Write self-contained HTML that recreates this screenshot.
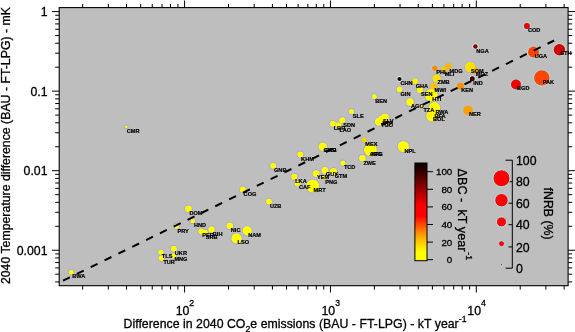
<!DOCTYPE html>
<html><head><meta charset="utf-8"><title>chart</title><style>html,body{margin:0;padding:0;background:#fff}svg{display:block}</style></head><body>
<svg width="575" height="332" viewBox="0 0 575 332" font-family="'Liberation Sans', Arial, sans-serif">
<rect width="575" height="332" fill="#fff"/>
<defs><clipPath id="pc"><rect x="59.2" y="7.6" width="508.90000000000003" height="278.09999999999997"/></clipPath>
<linearGradient id="cb" x1="0" y1="0" x2="0" y2="1">
<stop offset="0.0000" stop-color="#000000"/>
<stop offset="0.0890" stop-color="#330000"/>
<stop offset="0.2682" stop-color="#990000"/>
<stop offset="0.4401" stop-color="#ff0000"/>
<stop offset="0.5425" stop-color="#ff0000"/>
<stop offset="0.6285" stop-color="#ff4800"/>
<stop offset="0.7165" stop-color="#ff9000"/>
<stop offset="0.8086" stop-color="#ffc800"/>
<stop offset="0.9110" stop-color="#ffff00"/>
<stop offset="1.0000" stop-color="#ffff00"/>
</linearGradient></defs>
<rect x="59.2" y="7.6" width="508.90000000000003" height="278.09999999999997" fill="#bebebe"/>
<path d="M55.2 281.91H59.2M568.1 281.91H572.2M55.2 274.20H59.2M568.1 274.20H572.2M55.2 267.90H59.2M568.1 267.90H572.2M55.2 262.57H59.2M568.1 262.57H572.2M55.2 257.96H59.2M568.1 257.96H572.2M55.2 253.89H59.2M568.1 253.89H572.2M52 250.25H59.2M568.1 250.25H575M55.2 226.30H59.2M568.1 226.30H572.2M55.2 212.30H59.2M568.1 212.30H572.2M55.2 202.36H59.2M568.1 202.36H572.2M55.2 194.65H59.2M568.1 194.65H572.2M55.2 188.35H59.2M568.1 188.35H572.2M55.2 183.02H59.2M568.1 183.02H572.2M55.2 178.41H59.2M568.1 178.41H572.2M55.2 174.34H59.2M568.1 174.34H572.2M52 170.70H59.2M568.1 170.70H575M55.2 146.75H59.2M568.1 146.75H572.2M55.2 132.75H59.2M568.1 132.75H572.2M55.2 122.81H59.2M568.1 122.81H572.2M55.2 115.10H59.2M568.1 115.10H572.2M55.2 108.80H59.2M568.1 108.80H572.2M55.2 103.47H59.2M568.1 103.47H572.2M55.2 98.86H59.2M568.1 98.86H572.2M55.2 94.79H59.2M568.1 94.79H572.2M52 91.15H59.2M568.1 91.15H575M55.2 67.20H59.2M568.1 67.20H572.2M55.2 53.20H59.2M568.1 53.20H572.2M55.2 43.26H59.2M568.1 43.26H572.2M55.2 35.55H59.2M568.1 35.55H572.2M55.2 29.25H59.2M568.1 29.25H572.2M55.2 23.92H59.2M568.1 23.92H572.2M55.2 19.31H59.2M568.1 19.31H572.2M55.2 15.24H59.2M568.1 15.24H572.2M52 11.60H59.2M568.1 11.60H575M82.66 4V7.6M82.66 285.7V289.6M108.34 4V7.6M108.34 285.7V289.6M126.56 4V7.6M126.56 285.7V289.6M140.69 4V7.6M140.69 285.7V289.6M152.24 4V7.6M152.24 285.7V289.6M162.01 4V7.6M162.01 285.7V289.6M170.47 4V7.6M170.47 285.7V289.6M177.93 4V7.6M177.93 285.7V289.6M184.60 0.5V7.6M184.60 285.7V292.5M228.51 4V7.6M228.51 285.7V289.6M254.19 4V7.6M254.19 285.7V289.6M272.41 4V7.6M272.41 285.7V289.6M286.54 4V7.6M286.54 285.7V289.6M298.09 4V7.6M298.09 285.7V289.6M307.86 4V7.6M307.86 285.7V289.6M316.32 4V7.6M316.32 285.7V289.6M323.78 4V7.6M323.78 285.7V289.6M330.45 0.5V7.6M330.45 285.7V292.5M374.36 4V7.6M374.36 285.7V289.6M400.04 4V7.6M400.04 285.7V289.6M418.26 4V7.6M418.26 285.7V289.6M432.39 4V7.6M432.39 285.7V289.6M443.94 4V7.6M443.94 285.7V289.6M453.71 4V7.6M453.71 285.7V289.6M462.17 4V7.6M462.17 285.7V289.6M469.63 4V7.6M469.63 285.7V289.6M476.30 0.5V7.6M476.30 285.7V292.5M520.21 4V7.6M520.21 285.7V289.6M545.89 4V7.6M545.89 285.7V289.6M564.11 4V7.6M564.11 285.7V289.6" stroke="#000" stroke-width="1" fill="none"/>
<g clip-path="url(#pc)">
<g>
<circle cx="71.3" cy="272.2" r="3.30" fill="#a4a4e1"/>
<circle cx="160.9" cy="252.2" r="3.50" fill="#a4a4e1"/>
<circle cx="161.3" cy="258.2" r="3.50" fill="#a4a4e1"/>
<circle cx="173.9" cy="248.8" r="3.80" fill="#a4a4e1"/>
<circle cx="173.5" cy="256.0" r="3.50" fill="#a4a4e1"/>
<circle cx="176.4" cy="226.6" r="3.30" fill="#a4a4e1"/>
<circle cx="188.5" cy="208.9" r="4.10" fill="#a4a4e1"/>
<circle cx="192.7" cy="221.0" r="3.10" fill="#a4a4e1"/>
<circle cx="201.3" cy="231.6" r="3.80" fill="#a4a4e1"/>
<circle cx="204.9" cy="232.7" r="3.80" fill="#a4a4e1"/>
<circle cx="211.5" cy="229.5" r="4.00" fill="#a4a4e1"/>
<circle cx="229.8" cy="225.9" r="4.10" fill="#a4a4e1"/>
<circle cx="247.2" cy="230.8" r="5.50" fill="#a4a4e1"/>
<circle cx="236.6" cy="238.4" r="6.00" fill="#a4a4e1"/>
<circle cx="242.7" cy="189.6" r="3.80" fill="#a4a4e1"/>
<circle cx="268.9" cy="201.6" r="3.80" fill="#a4a4e1"/>
<circle cx="273.2" cy="165.7" r="3.80" fill="#a4a4e1"/>
<circle cx="300.3" cy="154.4" r="3.80" fill="#a4a4e1"/>
<circle cx="294.2" cy="176.8" r="3.80" fill="#a4a4e1"/>
<circle cx="297.7" cy="183.5" r="3.80" fill="#a4a4e1"/>
<circle cx="312.7" cy="186.1" r="7.30" fill="#a4a4e1"/>
<circle cx="316.1" cy="173.4" r="4.30" fill="#a4a4e1"/>
<circle cx="324.3" cy="177.2" r="3.30" fill="#a4a4e1"/>
<circle cx="324.9" cy="170.3" r="4.30" fill="#a4a4e1"/>
<circle cx="333.5" cy="171.5" r="4.30" fill="#a4a4e1"/>
<circle cx="342.9" cy="163.0" r="3.40" fill="#a4a4e1"/>
<circle cx="351.5" cy="111.6" r="3.50" fill="#a4a4e1"/>
<circle cx="342.3" cy="120.3" r="3.80" fill="#a4a4e1"/>
<circle cx="332.8" cy="123.8" r="3.80" fill="#a4a4e1"/>
<circle cx="338.5" cy="125.1" r="3.60" fill="#a4a4e1"/>
<circle cx="322.8" cy="146.7" r="5.10" fill="#a4a4e1"/>
<circle cx="370.4" cy="150.0" r="7.20" fill="#a4a4e1"/>
<circle cx="364.3" cy="139.9" r="3.50" fill="#a4b6e1"/>
<circle cx="362.4" cy="158.2" r="4.10" fill="#a4a4e1"/>
<circle cx="403.4" cy="146.5" r="6.30" fill="#a4a4e1"/>
<circle cx="374.3" cy="96.6" r="3.30" fill="#a4a4e1"/>
<circle cx="399.5" cy="89.4" r="3.60" fill="#a4a4e1"/>
<circle cx="410.0" cy="102.1" r="4.60" fill="#a4a4e1"/>
<circle cx="379.0" cy="121.8" r="4.80" fill="#a4a4e1"/>
<circle cx="382.0" cy="119.6" r="4.80" fill="#a4a4e1"/>
<circle cx="385.0" cy="117.5" r="4.70" fill="#a4a4e1"/>
<circle cx="399.5" cy="79.0" r="2.90" fill="#e1e1e1"/>
<circle cx="415.1" cy="81.3" r="3.80" fill="#a4aae1"/>
<circle cx="420.0" cy="90.0" r="4.00" fill="#a4a4e1"/>
<circle cx="434.9" cy="68.2" r="3.60" fill="#a4d2e1"/>
<circle cx="443.8" cy="69.5" r="3.80" fill="#a4bae1"/>
<circle cx="448.5" cy="66.4" r="4.10" fill="#a4c2e1"/>
<circle cx="436.6" cy="78.4" r="5.00" fill="#a4b0e1"/>
<circle cx="433.7" cy="86.3" r="4.30" fill="#a4bde1"/>
<circle cx="431.3" cy="95.3" r="7.10" fill="#a4a4e1"/>
<circle cx="422.5" cy="106.3" r="2.80" fill="#a4a4e1"/>
<circle cx="431.8" cy="116.0" r="6.30" fill="#a4a4e1"/>
<circle cx="430.1" cy="115.3" r="3.80" fill="#a4aae1"/>
<circle cx="434.4" cy="107.8" r="6.60" fill="#a4a4e1"/>
<circle cx="460.4" cy="86.1" r="4.40" fill="#a4d0e1"/>
<circle cx="468.0" cy="110.3" r="5.70" fill="#a4cae1"/>
<circle cx="475.4" cy="46.5" r="3.00" fill="#d6e1e1"/>
<circle cx="474.8" cy="70.2" r="4.30" fill="#a4c8e1"/>
<circle cx="470.1" cy="67.0" r="6.00" fill="#a4b0e1"/>
<circle cx="472.3" cy="78.8" r="3.30" fill="#e1e1e1"/>
<circle cx="526.9" cy="26.0" r="3.80" fill="#aee1e1"/>
<circle cx="533.5" cy="52.1" r="6.30" fill="#a4e1e1"/>
<circle cx="559.4" cy="49.7" r="6.50" fill="#b5e1e1"/>
<circle cx="541.8" cy="77.9" r="8.50" fill="#a4e1e1"/>
<circle cx="516.0" cy="84.5" r="5.80" fill="#aae1e1"/>
<circle cx="126.2" cy="126.8" r="2.20" fill="#a4a4e1"/>
<circle cx="71.3" cy="272.2" r="2.50" fill="#ffff00"/>
<circle cx="160.9" cy="252.2" r="2.70" fill="#ffff00"/>
<circle cx="161.3" cy="258.2" r="2.70" fill="#ffff00"/>
<circle cx="173.9" cy="248.8" r="3.00" fill="#ffff00"/>
<circle cx="173.5" cy="256.0" r="2.70" fill="#ffff00"/>
<circle cx="176.4" cy="226.6" r="2.50" fill="#ffff00"/>
<circle cx="188.5" cy="208.9" r="3.30" fill="#ffff00"/>
<circle cx="192.7" cy="221.0" r="2.30" fill="#ffff00"/>
<circle cx="201.3" cy="231.6" r="3.00" fill="#ffff00"/>
<circle cx="204.9" cy="232.7" r="3.00" fill="#ffff00"/>
<circle cx="211.5" cy="229.5" r="3.20" fill="#ffff00"/>
<circle cx="229.8" cy="225.9" r="3.30" fill="#ffff00"/>
<circle cx="247.2" cy="230.8" r="4.70" fill="#ffff00"/>
<circle cx="236.6" cy="238.4" r="5.20" fill="#ffff00"/>
<circle cx="242.7" cy="189.6" r="3.00" fill="#ffff00"/>
<circle cx="268.9" cy="201.6" r="3.00" fill="#ffff00"/>
<circle cx="273.2" cy="165.7" r="3.00" fill="#ffff00"/>
<circle cx="300.3" cy="154.4" r="3.00" fill="#ffff00"/>
<circle cx="294.2" cy="176.8" r="3.00" fill="#ffff00"/>
<circle cx="297.7" cy="183.5" r="3.00" fill="#ffff00"/>
<circle cx="312.7" cy="186.1" r="6.50" fill="#ffff00"/>
<circle cx="316.1" cy="173.4" r="3.50" fill="#ffff00"/>
<circle cx="324.3" cy="177.2" r="2.50" fill="#ffff00"/>
<circle cx="324.9" cy="170.3" r="3.50" fill="#ffff00"/>
<circle cx="333.5" cy="171.5" r="3.50" fill="#ffff00"/>
<circle cx="342.9" cy="163.0" r="2.60" fill="#ffff00"/>
<circle cx="351.5" cy="111.6" r="2.70" fill="#ffff00"/>
<circle cx="342.3" cy="120.3" r="3.00" fill="#ffff00"/>
<circle cx="332.8" cy="123.8" r="3.00" fill="#ffff00"/>
<circle cx="338.5" cy="125.1" r="2.80" fill="#ffff00"/>
<circle cx="322.8" cy="146.7" r="4.30" fill="#ffff00"/>
<circle cx="370.4" cy="150.0" r="6.40" fill="#ffff00"/>
<circle cx="364.3" cy="139.9" r="2.70" fill="#ffd000"/>
<circle cx="362.4" cy="158.2" r="3.30" fill="#ffff00"/>
<circle cx="403.4" cy="146.5" r="5.50" fill="#ffff00"/>
<circle cx="374.3" cy="96.6" r="2.50" fill="#ffff00"/>
<circle cx="399.5" cy="89.4" r="2.80" fill="#ffff00"/>
<circle cx="410.0" cy="102.1" r="3.80" fill="#ffff00"/>
<circle cx="379.0" cy="121.8" r="4.00" fill="#ffff00"/>
<circle cx="382.0" cy="119.6" r="4.00" fill="#ffff00"/>
<circle cx="385.0" cy="117.5" r="3.90" fill="#ffff00"/>
<circle cx="399.5" cy="79.0" r="2.10" fill="#0d0000"/>
<circle cx="415.1" cy="81.3" r="3.00" fill="#fff000"/>
<circle cx="420.0" cy="90.0" r="3.20" fill="#ffff00"/>
<circle cx="434.9" cy="68.2" r="2.80" fill="#ff8c00"/>
<circle cx="443.8" cy="69.5" r="3.00" fill="#ffc800"/>
<circle cx="448.5" cy="66.4" r="3.30" fill="#ffb400"/>
<circle cx="436.6" cy="78.4" r="4.20" fill="#ffe000"/>
<circle cx="433.7" cy="86.3" r="3.50" fill="#ffc000"/>
<circle cx="431.3" cy="95.3" r="6.30" fill="#ffff00"/>
<circle cx="422.5" cy="106.3" r="2.00" fill="#ffff00"/>
<circle cx="431.8" cy="116.0" r="5.50" fill="#ffff00"/>
<circle cx="430.1" cy="115.3" r="3.00" fill="#fff000"/>
<circle cx="434.4" cy="107.8" r="5.80" fill="#ffff00"/>
<circle cx="460.4" cy="86.1" r="3.60" fill="#ff9000"/>
<circle cx="468.0" cy="110.3" r="4.90" fill="#ffa000"/>
<circle cx="475.4" cy="46.5" r="2.20" fill="#800000"/>
<circle cx="474.8" cy="70.2" r="3.50" fill="#ffa500"/>
<circle cx="470.1" cy="67.0" r="5.20" fill="#ffe000"/>
<circle cx="472.3" cy="78.8" r="2.50" fill="#400000"/>
<circle cx="526.9" cy="26.0" r="3.00" fill="#e60000"/>
<circle cx="533.5" cy="52.1" r="5.50" fill="#ff4500"/>
<circle cx="559.4" cy="49.7" r="5.70" fill="#d40000"/>
<circle cx="541.8" cy="77.9" r="7.70" fill="#ff4500"/>
<circle cx="516.0" cy="84.5" r="5.00" fill="#f00000"/>
<circle cx="126.2" cy="126.8" r="1.40" fill="#ffff00"/>
</g></g>
<g font-size="5.6" font-weight="bold" fill="#000" stroke="#000" stroke-width="0.2">
<text x="72.2" y="278.1">BWA</text>
<text x="161.8" y="258.1">TLS</text>
<text x="163.4" y="264.0">TUR</text>
<text x="174.8" y="254.8">UKR</text>
<text x="174.4" y="261.4">MNG</text>
<text x="177.5" y="232.7">PRY</text>
<text x="189.4" y="215.4">DOM</text>
<text x="193.9" y="227.0">HND</text>
<text x="202.3" y="237.2">PER</text>
<text x="205.8" y="238.8">SRB</text>
<text x="212.8" y="235.7">BIH</text>
<text x="230.8" y="231.9">NIC</text>
<text x="248.2" y="236.7">NAM</text>
<text x="237.5" y="244.3">LSO</text>
<text x="243.6" y="195.7">COG</text>
<text x="269.9" y="207.7">UZB</text>
<text x="274.0" y="171.5">GNB</text>
<text x="301.1" y="160.5">KHM</text>
<text x="295.2" y="182.7">LKA</text>
<text x="299.0" y="189.4">CAF</text>
<text x="313.5" y="192.2">MRT</text>
<text x="317.0" y="179.3">YEM</text>
<text x="325.3" y="183.6">PNG</text>
<text x="325.8" y="176.4">GUY</text>
<text x="334.7" y="177.6">GTM</text>
<text x="343.9" y="169.1">TCD</text>
<text x="352.8" y="117.7">SLE</text>
<text x="343.3" y="126.6">SDN</text>
<text x="333.7" y="129.8">LBR</text>
<text x="339.4" y="131.8">LAO</text>
<text x="323.4" y="152.2">GMB</text>
<text x="324.2" y="152.0">GAB</text>
<text x="369.5" y="155.8">ARG</text>
<text x="371.0" y="155.6">AFG</text>
<text x="365.3" y="145.6">MEX</text>
<text x="363.4" y="164.6">ZWE</text>
<text x="404.4" y="152.6">NPL</text>
<text x="375.2" y="102.7">BEN</text>
<text x="400.5" y="95.5">GIN</text>
<text x="411.0" y="108.4">AGO</text>
<text x="381.0" y="127.4">TGO</text>
<text x="382.2" y="125.0">STP</text>
<text x="383.0" y="123.0">SLV</text>
<text x="400.4" y="84.7">CHN</text>
<text x="415.7" y="88.0">GHA</text>
<text x="421.0" y="95.8">SEN</text>
<text x="436.2" y="74.3">PHL</text>
<text x="444.7" y="75.8">MLI</text>
<text x="449.5" y="72.7">MDG</text>
<text x="437.5" y="84.4">ZMB</text>
<text x="434.6" y="92.3">MWI</text>
<text x="432.3" y="100.8">HTI</text>
<text x="423.4" y="112.3">TZA</text>
<text x="433.0" y="120.7">BOL</text>
<text x="434.4" y="118.4">BFA</text>
<text x="435.4" y="113.9">RWA</text>
<text x="461.3" y="91.7">KEN</text>
<text x="468.9" y="116.4">NER</text>
<text x="476.3" y="52.8">NGA</text>
<text x="475.8" y="75.9">MOZ</text>
<text x="471.0" y="73.1">SOM</text>
<text x="473.2" y="84.8">IND</text>
<text x="527.9" y="32.1">COD</text>
<text x="534.7" y="58.2">UGA</text>
<text x="560.4" y="55.1">ETH</text>
<text x="542.7" y="84.0">PAK</text>
<text x="517.0" y="90.4">BGD</text>
<text x="126.8" y="133.2">CMR</text>
</g>
<line x1="63.0" y1="280.7" x2="554.2" y2="40.5" stroke="#000" stroke-width="2.0" stroke-dasharray="7.68 7.73"/>
<rect x="59.2" y="7.6" width="508.90000000000003" height="278.09999999999997" fill="none" stroke="#000" stroke-width="1.1"/>
<g stroke="#000" stroke-width="0.3">
<rect x="414.9" y="163" width="12.1" height="97.7" fill="url(#cb)" stroke="#000" stroke-width="1"/>
<text x="452.3" y="175.10" font-size="9.8" text-anchor="end">100</text>
<text x="452.3" y="192.70" font-size="9.8" text-anchor="end">80</text>
<text x="452.3" y="210.30" font-size="9.8" text-anchor="end">60</text>
<text x="452.3" y="227.90" font-size="9.8" text-anchor="end">40</text>
<text x="452.3" y="245.50" font-size="9.8" text-anchor="end">20</text>
<text x="452.3" y="263.10" font-size="9.8" text-anchor="end">0</text>
<path d="M427 171.70H433M427 189.30H433M427 206.90H433M427 224.50H433M427 242.10H433M427 259.70H433" stroke="#000" stroke-width="1"/>
<text transform="translate(458.3,168.5) rotate(90)" font-size="12.7">ΔBC - &#160;kT year<tspan font-size="9" dx="0.8" dy="-8">-1</tspan></text>
<path d="M505.5 160.2H512.3V268.2H505.5M508.5 181.7H512.3M508.5 203.2H512.3M508.5 224.7H512.3M508.5 246.9H512.3" fill="none" stroke="#000" stroke-width="1"/>
<text x="516" y="164.70" font-size="12.3">100</text>
<text x="516" y="186.00" font-size="12.3">80</text>
<text x="516" y="208.00" font-size="12.3">60</text>
<text x="516" y="229.10" font-size="12.3">40</text>
<text x="516" y="251.70" font-size="12.3">20</text>
<text x="516" y="272.60" font-size="12.3">0</text>
<circle cx="501.5" cy="178.3" r="8.5" fill="#ff0000" stroke="#a4f0f6" stroke-width="0.9"/>
<circle cx="501.5" cy="200.2" r="6.7" fill="#ff0000" stroke="#a4f0f6" stroke-width="0.9"/>
<circle cx="501.5" cy="221.9" r="5.0" fill="#ff0000" stroke="#a4f0f6" stroke-width="0.9"/>
<circle cx="501.5" cy="243.7" r="3.0" fill="#ff0000" stroke="#a4f0f6" stroke-width="0.9"/>
<circle cx="501.5" cy="264.7" r="1.1" fill="#ff0000" stroke="#a4f0f6" stroke-width="0.9"/>
<text transform="translate(544.2,187.6) rotate(90)" font-size="12.3">fNRB (%)</text>
<text x="47.5" y="16.30" font-size="12.3" text-anchor="end">1</text>
<text x="47.5" y="95.85" font-size="12.3" text-anchor="end">0.1</text>
<text x="47.5" y="175.40" font-size="12.3" text-anchor="end">0.01</text>
<text x="47.5" y="254.95" font-size="12.3" text-anchor="end">0.001</text>
<text x="175.65" y="314.5" font-size="12.3">10<tspan font-size="8.7" dy="-8.1">2</tspan></text>
<text x="321.50" y="314.5" font-size="12.3">10<tspan font-size="8.7" dy="-8.1">3</tspan></text>
<text x="467.35" y="314.5" font-size="12.3">10<tspan font-size="8.7" dy="-8.1">4</tspan></text>
<text x="123.5" y="328.4" font-size="12.3" textLength="343" lengthAdjust="spacing">Difference in 2040 CO<tspan font-size="8.7" dy="4">2</tspan><tspan dy="-4">e emissions (BAU - FT-LPG) - kT year</tspan><tspan font-size="8.7" dy="-6.5">-1</tspan></text>
<text transform="translate(9.9,284.1) rotate(-90)" font-size="12.3">2040 Temperature difference (BAU - FT-LPG) - mK</text>
</g>
</svg>
</body></html>
